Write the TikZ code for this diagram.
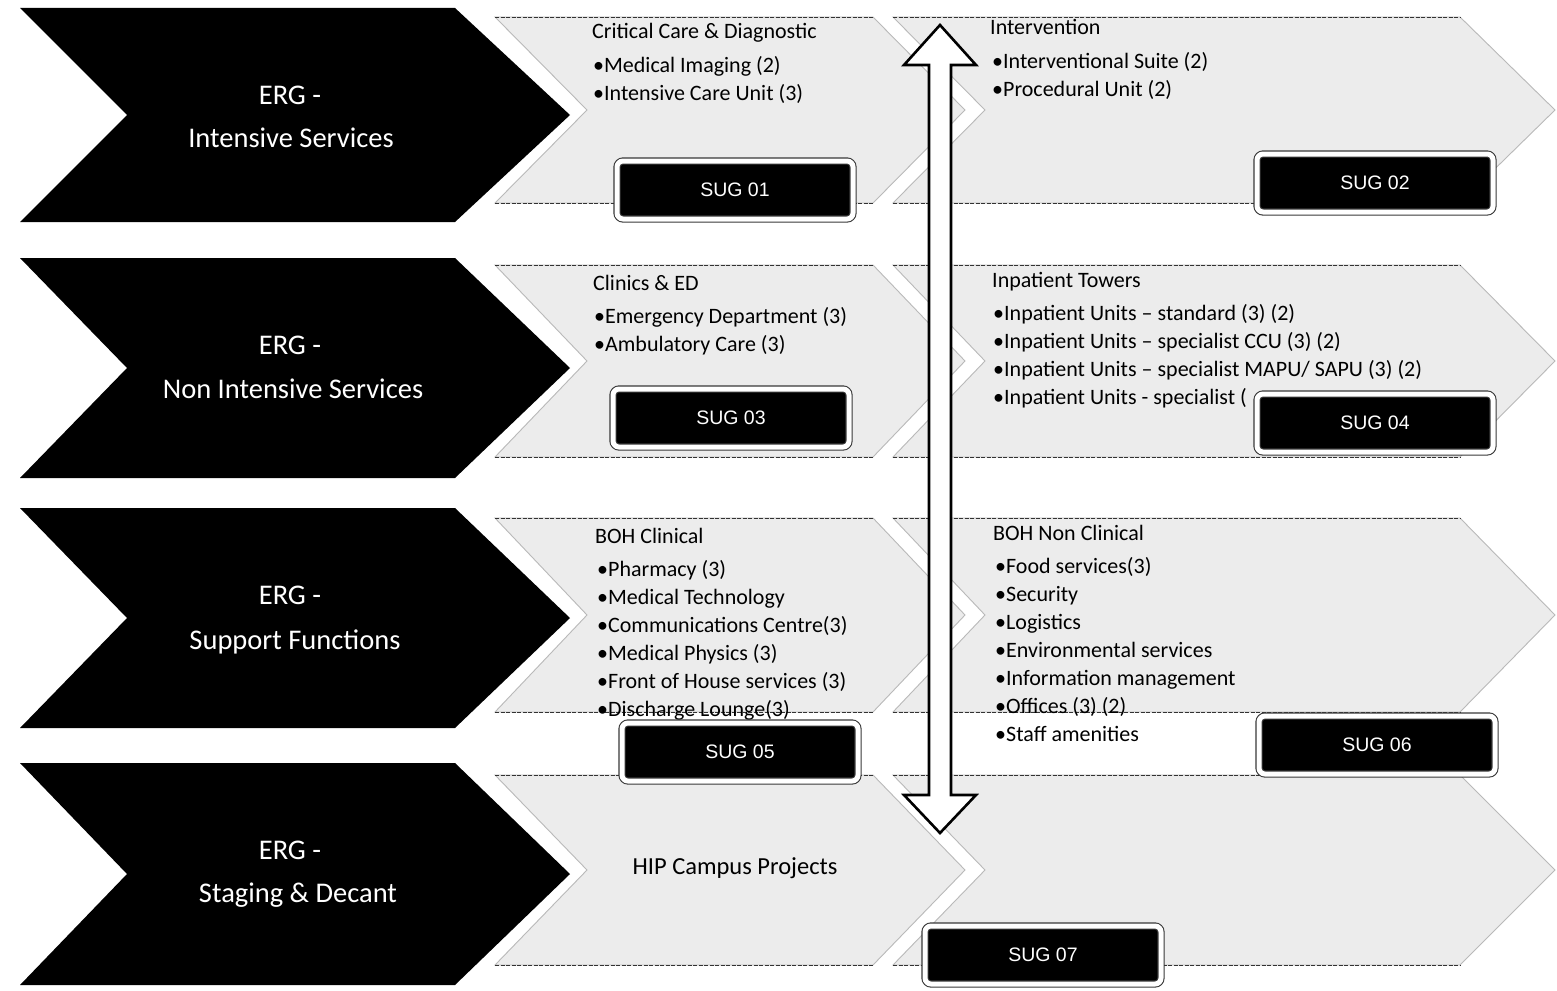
\documentclass[tikz,border=0pt]{standalone}
\usepackage{fontspec}
\setmainfont{Carlito}
\newfontfamily\sugfont{Liberation Sans}
\begin{document}
\begin{tikzpicture}[x=1pt,y=-1pt,
 graychev/.style={fill=gray!15, draw=gray!55, line width=0.9pt},
 grayedge/.style={draw=gray!40!black, line width=0.9pt, dash pattern=on 4pt off 1.5pt},
 blackchev/.style={fill=black},
 ergtext/.style={text=white, font=\fontsize{28.5}{34}\selectfont, anchor=base, inner sep=0pt},
 headtext/.style={anchor=base west, inner sep=0pt, font=\fontsize{22}{26}\selectfont, text=black},
 bigtext/.style={anchor=base, inner sep=0pt, font=\fontsize{24.5}{28}\selectfont, text=black},
 sugbox/.style={fill=black, draw=gray!45!black, double=white, double distance=5pt, line width=1.1pt,
   rounded corners=6pt, minimum width=236pt, minimum height=58pt, text=white,
   font=\sugfont\fontsize{19.5}{23}\selectfont, inner sep=0pt},
 bigarrow/.style={fill=white, draw=black, line width=2.6pt, line join=miter}
]
\useasboundingbox[fill=white] (0,0) rectangle (1557,990);

% gray chevrons
\foreach \t/\b [count=\r] in {17/203, 265/457, 518/712, 775/965}{
  \pgfmathsetmacro\m{(\t+\b)/2}
  \draw[graychev] (495,\t) -- (873,\t) -- (965,\m) -- (873,\b) -- (495,\b) -- (587,\m) -- cycle;
  \draw[graychev] (893,\t) -- (1460,\t) -- (1555,\m) -- (1460,\b) -- (893,\b) -- (985,\m) -- cycle;
  \draw[grayedge] (495,\t) -- (873,\t) (495,\b) -- (873,\b);
  \draw[grayedge] (893,\t) -- (1460,\t) (893,\b) -- (1460,\b);
}

% black chevrons
\foreach \t/\b in {8/222, 258/478, 508/728, 763/985}{
  \pgfmathsetmacro\m{(\t+\b)/2}
  \fill[blackchev] (20,\t) -- (455,\t) -- (570,\m) -- (455,\b) -- (20,\b) -- (127,\m) -- cycle;
}

% black chevron labels
\node[ergtext] (e1a) at (290,104) {ERG -};
\node[ergtext] (e1b) at (291,147) {Intensive Services};
\node[ergtext] (e2a) at (290,354) {ERG -};
\node[ergtext] (e2b) at (293,398) {Non Intensive Services};
\node[ergtext] (e3a) at (290,604) {ERG -};
\node[ergtext] (e3b) at (295,649) {Support Functions};
\node[ergtext] (e4a) at (290,859) {ERG -};
\node[ergtext] (e4b) at (298,902) {Staging \& Decant};

% row 1
\node[headtext] (h1) at (592,38) {Critical Care \& Diagnostic};
\node[headtext] (h1a) at (593,72) {•Medical Imaging (2)};
\node[headtext] (h1b) at (593,100) {•Intensive Care Unit (3)};
\node[headtext] (h2) at (990,35) {Intervention};
\node[headtext] (h2a) at (992,68) {•Interventional Suite (2)};
\node[headtext] (h2b) at (992,96) {•Procedural Unit (2)};

% row 2
\node[headtext] (h3) at (593,290) {Clinics \& ED};
\node[headtext] (h3a) at (594,323) {•Emergency Department (3)};
\node[headtext] (h3b) at (594,351) {•Ambulatory Care (3)};
\node[headtext] (h4) at (992,287) {Inpatient Towers};
\node[headtext] (h4a) at (993,320) {•Inpatient Units – standard (3) (2)};
\node[headtext] (h4b) at (993,348) {•Inpatient Units – specialist CCU (3) (2)};
\node[headtext] (h4c) at (993,376) {•Inpatient Units – specialist MAPU/ SAPU (3) (2)};
\node[headtext] (h4d) at (993,404) {•Inpatient Units - specialist (};

% row 3
\node[headtext] (h5) at (595,543) {BOH Clinical};
\foreach \txt [count=\i] in {•Pharmacy (3), •Medical Technology, •Communications Centre(3),
   •Medical Physics (3), •Front of House services (3), •Discharge Lounge(3)}{
  \node[headtext] (h5-\i) at (597,548+28*\i) {\txt};
}
\node[headtext] (h6) at (993,540) {BOH Non Clinical};
\foreach \txt [count=\i] in {•Food services(3), •Security, •Logistics, •Environmental services,
   •Information management, •Offices (3) (2), •Staff amenities}{
  \node[headtext] (h6-\i) at (995,545+28*\i) {\txt};
}

% row 4
\node[bigtext] (h7) at (735,874) {HIP Campus Projects};

% double arrow
\draw[bigarrow] (940,25) -- (976,65) -- (951,65) -- (951,795) -- (976,795) -- (940,833)
  -- (904,795) -- (929,795) -- (929,65) -- (904,65) -- cycle;

% SUG boxes
\node[sugbox] (s1) at (735,190) {SUG 01};
\node[sugbox] (s2) at (1375,183) {SUG 02};
\node[sugbox] (s3) at (731,418) {SUG 03};
\node[sugbox] (s4) at (1375,423) {SUG 04};
\node[sugbox] (s5) at (740,752) {SUG 05};
\node[sugbox] (s6) at (1377,745) {SUG 06};
\node[sugbox] (s7) at (1043,955) {SUG 07};
\end{tikzpicture}
\end{document}
